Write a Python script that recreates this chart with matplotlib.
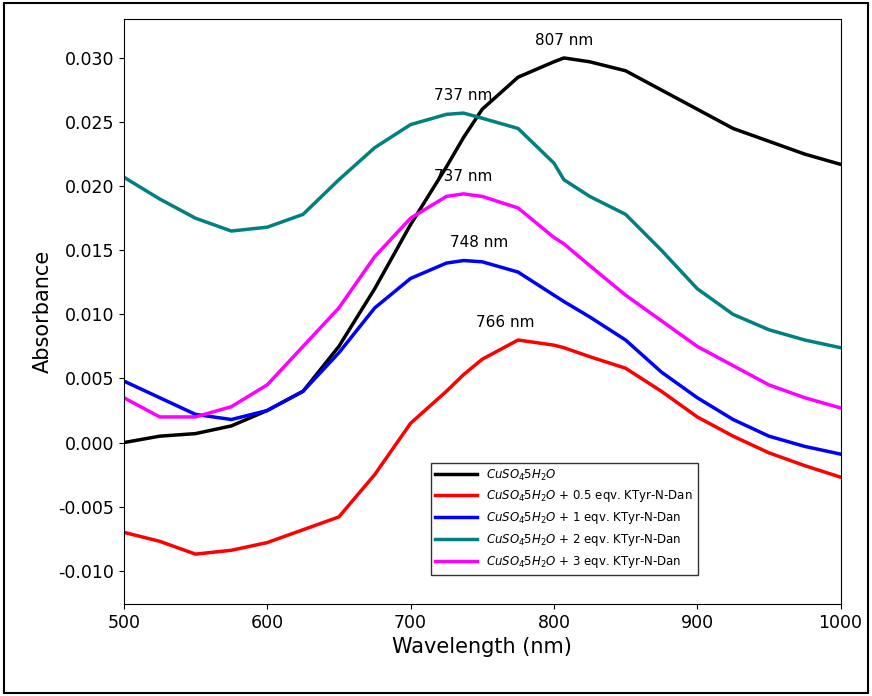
import matplotlib
matplotlib.use("Agg")
import matplotlib.pyplot as plt
from matplotlib.patches import Rectangle

wl = [500,525,550,575,600,625,650,675,700,725,737,750,775,800,807,825,850,875,900,925,950,975,1000]
black = [0.0,0.0005,0.0007,0.0013,0.0025,0.0040,0.0075,0.012,0.017,0.0215,0.0238,0.0260,0.0285,0.0297,0.0300,0.0297,0.0290,0.0275,0.0260,0.0245,0.0235,0.0225,0.0217]
red = [-0.0070,-0.0077,-0.0087,-0.0084,-0.0078,-0.0068,-0.0058,-0.0025,0.0015,0.0040,0.0053,0.0065,0.0080,0.0076,0.0074,0.0067,0.0058,0.0040,0.0020,0.0005,-0.0008,-0.0018,-0.0027]
blue = [0.0048,0.0035,0.0022,0.0018,0.0025,0.0040,0.0070,0.0105,0.0128,0.0140,0.0142,0.0141,0.0133,0.0115,0.0110,0.0098,0.0080,0.0055,0.0035,0.0018,0.0005,-0.0003,-0.0009]
teal = [0.0207,0.0190,0.0175,0.0165,0.0168,0.0178,0.0205,0.0230,0.0248,0.0256,0.0257,0.0253,0.0245,0.0218,0.0205,0.0192,0.0178,0.0150,0.0120,0.0100,0.0088,0.0080,0.0074]
mag = [0.0035,0.0020,0.0020,0.0028,0.0045,0.0075,0.0105,0.0145,0.0175,0.0192,0.0194,0.0192,0.0183,0.0160,0.0155,0.0138,0.0115,0.0095,0.0075,0.0060,0.0045,0.0035,0.0027]

labels = [r"$CuSO_4{\dot{}}5H_2O$",
          r"$CuSO_4{\dot{}}5H_2O$ + 0.5 eqv. KTyr-N-Dan",
          r"$CuSO_4{\dot{}}5H_2O$ + 1 eqv. KTyr-N-Dan",
          r"$CuSO_4{\dot{}}5H_2O$ + 2 eqv. KTyr-N-Dan",
          r"$CuSO_4{\dot{}}5H_2O$ + 3 eqv. KTyr-N-Dan"]
series = [black, red, blue, teal, mag]
colors = ["black", "red", "blue", "#008080", "#ff00ff"]

peaks = [(807, 0.0300, "807 nm"), (737, 0.0257, "737 nm"), (737, 0.0194, "737 nm"), (748, 0.0142, "748 nm"), (766, 0.0080, "766 nm")]

fig = plt.figure(figsize=(8.72, 6.96), dpi=100)
ax = fig.add_axes([0.142, 0.132, 0.822, 0.84])
for y, c, l in zip(series, colors, labels):
    ax.plot(wl, y, color=c, lw=2.5, label=l)
for x, y, t in peaks:
    ax.text(x, y + 0.0008, t, ha="center", va="bottom", fontsize=11)
ax.set_xlim(500, 1000)
ax.set_ylim(-0.0126, 0.0330)
ax.set_xticks([500,600,700,800,900,1000])
ax.set_yticks([-0.010,-0.005,0.0,0.005,0.010,0.015,0.020,0.025,0.030])
ax.yaxis.set_major_formatter(matplotlib.ticker.FormatStrFormatter("%.3f"))
ax.tick_params(labelsize=12.5)
ax.set_xlabel("Wavelength (nm)", fontsize=15)
ax.set_ylabel("Absorbance", fontsize=15)
ax.legend(loc="lower left", bbox_to_anchor=(0.42, 0.04), fontsize=8.5, frameon=True, fancybox=False, edgecolor="black", handlelength=3.5)
fig.patches.append(Rectangle((0.005, 0.005), 0.99, 0.99, transform=fig.transFigure, fill=False, edgecolor="black", lw=1.5))
fig.savefig("out.png", dpi=100)
